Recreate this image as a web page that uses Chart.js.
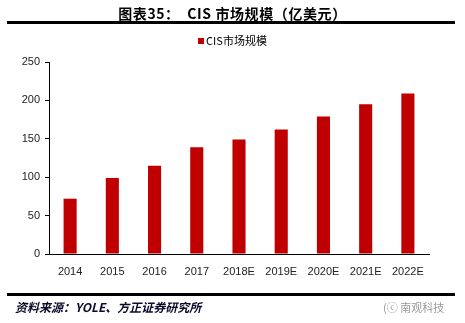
<!DOCTYPE html>
<html lang="zh">
<head>
  <meta charset="UTF-8">
  <title>CIS市场规模</title>
  <script src="https://cdn.jsdelivr.net/npm/chart.js"></script>
  <style>
    body { margin: 0; width: 465px; height: 323px; position: relative; background: #fff; overflow: hidden;
           font-family: "Noto Sans CJK SC", Arial, sans-serif; }
    #title { position: absolute; top: 3px; left: 0; width: 465px; text-align: center;
             font-size: 14px; font-weight: bold; color: #000; letter-spacing: 0.6px; }
    .rule { position: absolute; left: 7px; width: 448px; height: 3px; background: #000; }
    #legend { position: absolute; top: 32px; left: 0; width: 465px; text-align: center; font-size: 11px; color: #000; }
    #legend span.box { display: inline-block; width: 6px; height: 6px; background: #C00000; margin-right: 2px; vertical-align: 1px; }
    #source { position: absolute; top: 298px; left: 15px; font-size: 12px; font-style: italic; font-weight: bold; color: #0a0a2a; }
    #mark { position: absolute; top: 299px; left: 383px; font-size: 11px; color: #999; }
    #chart-box { position: absolute; left: 0; top: 0; width: 465px; height: 323px; }
  </style>
</head>
<body>
  <div id="chart-box"><canvas id="cisChart" width="465" height="323"></canvas></div>
  <div id="title">图表35：&nbsp; CIS 市场规模（亿美元）</div>
  <div class="rule" style="top:21px"></div>
  <div id="legend"><span class="box"></span>CIS市场规模</div>
  <div class="rule" style="top:293px"></div>
  <div id="source">资料来源：YOLE、方正证券研究所</div>
  <div id="mark">(ⓒ 南观科技</div>

  <script>
    // 数据
    const anos = ["2014", "2015", "2016", "2017", "2018E", "2019E", "2020E", "2021E", "2022E"];
    const mercado = [72, 99, 115, 139, 149, 162, 179, 195, 209];
    const yTicks = [0, 50, 100, 150, 200, 250];

    const ctx = document.getElementById("cisChart").getContext("2d");
    new Chart(ctx, {
      type: "bar",
      data: {
        labels: anos,
        datasets: [{
          label: "CIS市场规模",
          data: mercado,
          backgroundColor: "#C00000",
          barPercentage: 0.31,
          categoryPercentage: 1
        }]
      },
      options: {
        responsive: false,
        animation: false,
        devicePixelRatio: 1,
        layout: { padding: { top: 62, right: 36, bottom: 0, left: 0 } },
        plugins: { legend: { display: false }, tooltip: { enabled: false } },
        scales: {
          x: {
            grid: { display: false },
            border: { color: "#000", width: 1 },
            ticks: { color: "#222", font: { family: "Arial", size: 11 }, padding: 3, maxRotation: 0, autoSkip: false },
            afterFit: s => { s.height = 69; }
          },
          y: {
            min: 0, max: 250,
            afterBuildTicks: s => { s.ticks = yTicks.map(v => ({ value: v })); },
            grid: { drawOnChartArea: false, drawTicks: true, tickLength: 4, color: "#000" },
            border: { color: "#000", width: 1 },
            ticks: { color: "#222", font: { family: "Arial", size: 11 }, padding: 5 },
            afterFit: s => { s.width = 49; }
          }
        }
      }
    });
  </script>
</body>
</html>
